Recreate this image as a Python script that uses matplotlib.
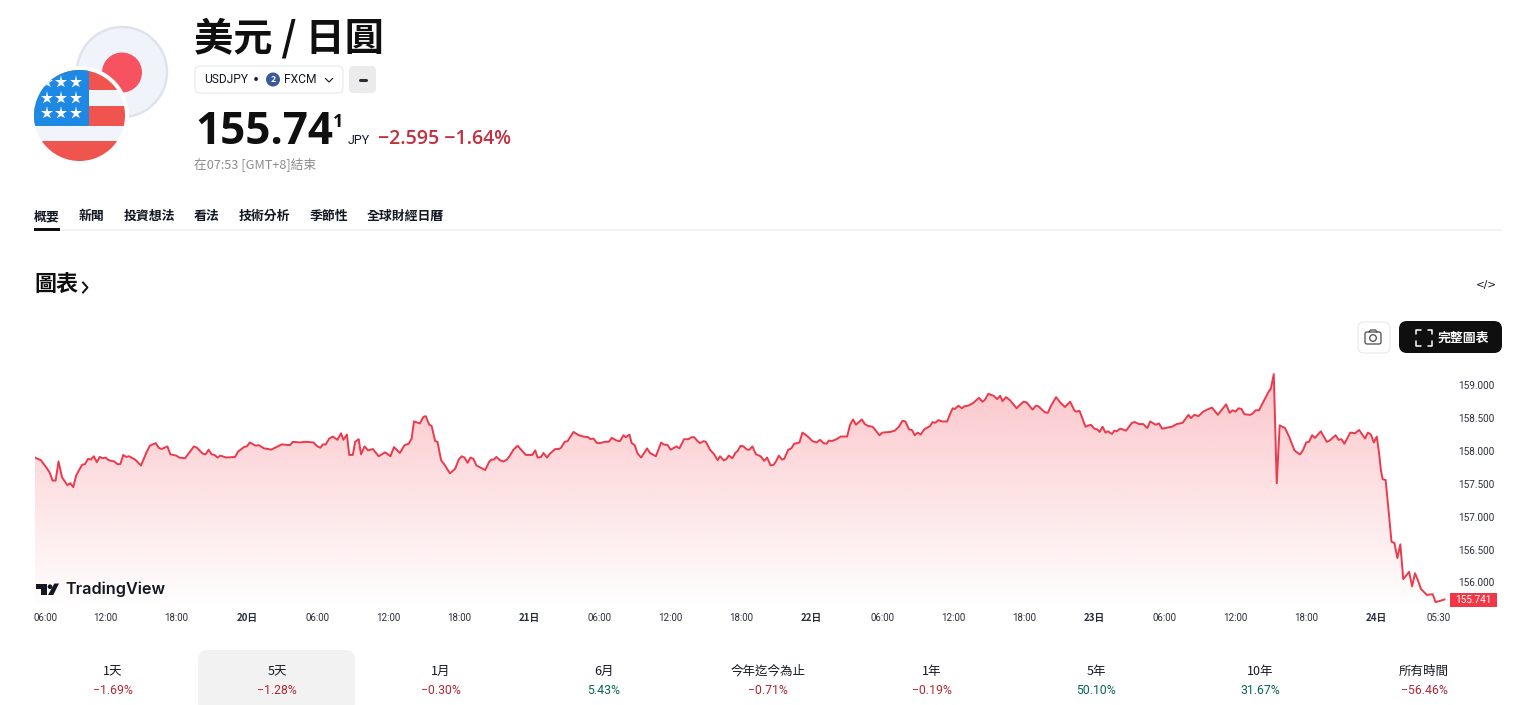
import numpy as np
import matplotlib
matplotlib.use("Agg")
import matplotlib.pyplot as plt
from matplotlib.patches import Circle, Rectangle, FancyBboxPatch, Polygon
from matplotlib.transforms import ScaledTranslation

FONT = ['Noto Sans CJK TC', 'DejaVu Sans']
plt.rcParams['font.family'] = FONT

# ---------- data ----------
hours = [0, .5, 1, 1.25, 1.5, 1.75, 2, 2.3, 2.75, 3, 3.25, 3.5, 4, 4.25, 4.5, 4.75, 5, 5.25, 5.5, 5.75, 6, 6.25, 6.75, 7, 7.25, 7.5, 7.75, 8, 8.5, 9, 9.5, 9.75, 10.25, 10.5, 10.75, 11.25, 11.5, 12, 12.25, 12.75, 13.25, 13.5, 13.75, 14.25, 14.5, 14.75, 15, 15.25, 15.5, 15.75, 16.25, 17, 17.25, 17.75, 18, 18.25, 18.75, 19,
         19.46, 19.83, 20.05, 20.4, 20.96, 21.67, 21.9, 22.5, 22.95, 23.65, 24, 24.25, 24.45, 24.7, 25, 25.3, 25.7, 26, 26.2, 26.5, 26.7, 27, 27.2, 27.5, 27.7, 28, 28.3, 28.7, 29.2, 29.75, 30.2, 30.5, 31, 31.4, 31.75, 32, 32.2, 32.7, 33, 33.2, 33.5, 33.7, 34, 34.2, 34.5, 34.8, 35.25, 35.7, 36, 36.25, 36.5, 36.75, 37, 37.25, 37.5, 38.25, 38.6, 38.8, 39,
         39.2, 39.5, 39.8, 40.1, 40.35, 40.65, 41, 41.2, 41.7, 42.25, 42.5, 42.7, 43, 43.2, 43.5, 43.75, 44.2, 44.5, 44.7, 45, 45.25, 45.75, 46.2, 46.6, 47, 47.2, 47.45, 47.75, 48, 48.4, 48.75, 49, 49.4, 49.7, 50, 50.2, 50.5, 50.7, 50.95, 51.2, 51.5, 52, 52.25, 52.75, 53.2, 53.4, 53.75, 54, 54.5, 54.75, 55.15, 55.5, 55.8, 56, 56.3, 56.5, 56.8, 57, 57.35, 57.7, 58, 58.2,
         58.5, 58.7, 58.95, 59.25, 59.5, 59.7, 59.95, 60.2, 60.5, 60.7, 60.95, 61.25, 61.65, 61.95, 62.2, 62.5, 62.75, 62.95, 63.2, 63.45, 63.65, 64, 64.25, 64.5, 64.95, 65.2, 65.6, 66.05, 66.4, 66.7, 67, 67.25, 67.45, 67.7, 68.1, 68.45, 69, 69.25, 69.5, 69.75, 70.25, 70.5, 70.8, 71.15, 71.35, 71.75, 72, 72.65, 73.05, 73.4, 73.7, 73.95, 74.25, 74.5, 74.75, 75, 75.25, 75.55, 76.05, 76.25, 76.5, 76.75, 77.05, 77.5,
         77.74, 77.97, 78.15, 78.45, 78.75, 78.95, 79.3, 79.7, 80.2, 80.5, 80.7, 81, 81.45, 81.75, 82, 82.2, 82.5, 82.85, 83.4, 83.6, 84, 84.25, 84.75, 85.05, 85.25, 85.8, 86.05, 86.3, 86.75, 87.1, 87.5, 87.95, 88.3, 88.45, 88.75, 89.25, 89.7, 90, 90.25, 90.45, 90.7, 90.95, 91.15, 91.5, 91.7, 91.9, 92.2, 92.7, 93.2, 93.45, 93.8, 94.15, 94.5, 94.75, 95.2, 95.5, 95.75, 96.3, 96.6, 97,
         97.28, 97.5, 98, 98.2, 98.5, 98.85, 99.25, 99.7, 100, 100.5, 100.75, 101.2, 101.5, 101.75, 102, 102.25, 102.5, 102.75, 103.25, 103.45, 103.7, 104, 104.25, 104.8, 105, 105.25, 105.5, 105.75, 106.2, 106.55, 107, 107.35, 107.5, 107.75, 108, 108.25, 108.5, 108.75, 109.25, 109.75, 110, 110.5, 110.75, 111, 111.25, 111.75, 112.15, 112.5, 113, 113.25, 113.5, 113.75, 114, 114.2, 114.35, 114.5, 114.75,
         115, 115.25, 115.5, 115.75, 116, 116.25, 116.75, 117, 117.25, 117.5, 117.75, 118.25, 118.75, 119, 119.4, 119.75]
prices = [157.90, 157.86, 157.74, 157.67, 157.55, 157.55, 157.84, 157.60, 157.48, 157.51, 157.45, 157.63, 157.79, 157.80, 157.88, 157.87, 157.92, 157.83, 157.91, 157.89, 157.90, 157.86, 157.84, 157.80, 157.80, 157.94, 157.91, 157.92, 157.87, 157.78, 157.99, 158.08, 158.12, 158.05, 158.03, 158.07, 157.95, 157.93, 157.90, 157.89, 158.01, 158.07, 158.05, 157.96, 157.95, 158.02, 157.95, 157.94, 157.90, 157.93, 157.90, 157.91, 157.99, 158.06, 158.07, 158.13, 158.08, 158.09,
          158.04, 158.03, 158.02, 158.05, 158.10, 158.09, 158.14, 158.13, 158.14, 158.13, 158.07, 158.05, 158.10, 158.10, 158.19, 158.22, 158.17, 158.27, 158.17, 158.25, 157.94, 157.94, 158.14, 158.18, 157.95, 158.07, 158.01, 158.03, 157.92, 157.98, 157.92, 158.06, 157.97, 158.09, 158.11, 158.19, 158.45, 158.42, 158.52, 158.53, 158.40, 158.38, 158.15, 158.14, 157.86, 157.79, 157.66, 157.73, 157.87, 157.92, 157.90, 157.82, 157.90, 157.88, 157.78, 157.71, 157.84, 157.87, 157.87,
          157.91, 157.86, 157.84, 157.87, 157.93, 158.02, 158.08, 158.04, 157.94, 157.94, 158.01, 157.90, 157.91, 157.97, 157.90, 157.96, 158.03, 158.03, 158.05, 158.14, 158.15, 158.29, 158.24, 158.22, 158.21, 158.18, 158.19, 158.12, 158.12, 158.14, 158.14, 158.20, 158.16, 158.15, 158.24, 158.21, 158.25, 158.12, 158.09, 157.96, 157.90, 158.04, 157.97, 157.92, 158.13, 158.10, 158.09, 158.02, 158.07, 158.04, 158.18, 158.18, 158.21, 158.21, 158.15, 158.12, 158.15, 158.14, 158.02, 157.95, 157.86, 157.92,
          157.86, 157.87, 157.93, 157.89, 157.97, 158.00, 158.08, 158.07, 158.02, 158.02, 158.07, 157.95, 157.92, 157.85, 157.90, 157.78, 157.79, 157.84, 157.93, 157.87, 157.88, 158.02, 158.04, 158.11, 158.13, 158.28, 158.23, 158.15, 158.13, 158.17, 158.12, 158.11, 158.16, 158.15, 158.18, 158.22, 158.22, 158.40, 158.48, 158.40, 158.48, 158.41, 158.38, 158.37, 158.33, 158.24, 158.28, 158.29, 158.31, 158.37, 158.46, 158.45, 158.33, 158.32, 158.24, 158.28, 158.25, 158.33, 158.38, 158.44, 158.43, 158.47, 158.45, 158.45,
          158.56, 158.65, 158.64, 158.69, 158.65, 158.68, 158.69, 158.73, 158.81, 158.75, 158.78, 158.87, 158.84, 158.79, 158.84, 158.76, 158.82, 158.77, 158.65, 158.69, 158.75, 158.74, 158.63, 158.69, 158.68, 158.59, 158.58, 158.68, 158.82, 158.74, 158.67, 158.75, 158.62, 158.60, 158.61, 158.37, 158.40, 158.34, 158.33, 158.29, 158.37, 158.28, 158.30, 158.26, 158.31, 158.30, 158.34, 158.31, 158.43, 158.44, 158.41, 158.41, 158.35, 158.45, 158.40, 158.42, 158.34, 158.36, 158.37, 158.41,
          158.42, 158.43, 158.55, 158.50, 158.55, 158.53, 158.60, 158.64, 158.66, 158.55, 158.61, 158.71, 158.58, 158.62, 158.60, 158.65, 158.64, 158.56, 158.55, 158.57, 158.62, 158.62, 158.71, 158.90, 158.95, 159.17, 157.51, 158.39, 158.35, 158.22, 158.01, 157.96, 157.95, 158.02, 158.13, 158.14, 158.24, 158.20, 158.30, 158.14, 158.16, 158.24, 158.17, 158.18, 158.11, 158.28, 158.27, 158.32, 158.19, 158.28, 158.25, 158.13, 158.22, 157.96, 157.71, 157.57, 157.56,
          157.10, 156.62, 156.60, 156.37, 156.58, 156.05, 156.16, 155.94, 156.14, 156.03, 155.90, 155.81, 155.82, 155.70, 155.72, 155.74]

x_tick_hours = [0, 6, 12, 18, 24, 30, 36, 42, 48, 54, 60, 66, 72, 78, 84, 90, 96, 102, 108, 114, 119.5]
x_tick_labels = ['06:00', '12:00', '18:00', '20日', '06:00', '12:00', '18:00', '21日', '06:00', '12:00', '18:00',
                 '22日', '06:00', '12:00', '18:00', '23日', '06:00', '12:00', '18:00', '24日', '05:30']
y_ticks = [156, 156.5, 157, 157.5, 158, 158.5, 159]
last_label = '155.741'

nav_tabs = ['概要', '新聞', '投資想法', '看法', '技術分析', '季節性', '全球財經日曆']
periods = ['1天', '5天', '1月', '6月', '今年迄今為止', '1年', '5年', '10年', '所有時間']
changes = ['−1.69%', '−1.28%', '−0.30%', '5.43%', '−0.71%', '−0.19%', '50.10%', '31.67%', '−56.46%']

# ---------- figure ----------
W, H = 1514, 705
fig = plt.figure(figsize=(W / 100, H / 100), dpi=100, facecolor='white')

L, R, T_, B = 35, 1450, 365, 610
chart = fig.add_axes([L / W, 1 - B / H, (R - L) / W, (B - T_) / H], zorder=1)
chart.patch.set_visible(False)
xlim = (0, (R - L) / 11.77)
ylim = (158 + (451 - B) / 65.7, 158 + (451 - T_) / 65.7)
chart.set_xlim(*xlim)
chart.set_ylim(*ylim)
for s in chart.spines.values():
    s.set_visible(False)

grad = np.zeros((256, 2, 4))
grad[..., 0] = 242 / 255
grad[..., 1] = 54 / 255
grad[..., 2] = 69 / 255
grad[..., 3] = np.linspace(0.30, 0.0, 256)[:, None]
poly = chart.fill_between(hours, prices, ylim[0], color='none', lw=0)
im = chart.imshow(grad, extent=(*xlim, *ylim), origin='upper', aspect='auto', zorder=1, interpolation='bilinear')
im.set_clip_path(poly.get_paths()[0], transform=chart.transData)
chart.set_xlim(*xlim)
chart.set_ylim(*ylim)
chart.plot(hours, prices, color='#ec3a4c', lw=1.4, zorder=2, solid_joinstyle='round')

TICK_COL = '#2a2e39'
chart.set_xticks(x_tick_hours)
chart.set_xticklabels(x_tick_labels)
chart.tick_params(axis='x', length=0, pad=2)
for lab, txt in zip(chart.get_xticklabels(), x_tick_labels):
    bold = txt.endswith('日')
    lab.set_fontproperties(matplotlib.font_manager.FontProperties(
        family=FONT if bold else ['Roboto', 'DejaVu Sans'], size=7.0, weight='bold' if bold else 'normal'))
    lab.set_color(TICK_COL)
ticklabs = chart.get_xticklabels()
ticklabs[0].set_ha('left')
ticklabs[0].set_transform(ticklabs[0].get_transform() + ScaledTranslation(-1 / 72, 0, fig.dpi_scale_trans))
ticklabs[-1].set_ha('right')
ticklabs[-1].set_transform(ticklabs[-1].get_transform() + ScaledTranslation(9 / 100, 0, fig.dpi_scale_trans))

chart.yaxis.tick_right()
chart.set_yticks(y_ticks)
chart.set_yticklabels([f'{v:.3f}' for v in y_ticks])
chart.tick_params(axis='y', length=0, pad=5.8)
for lab in chart.get_yticklabels():
    lab.set_fontfamily(['Roboto', 'DejaVu Sans'])
    lab.set_fontsize(7.2)
    lab.set_color(TICK_COL)

# ---------- page furniture, in pixel space ----------
ui = fig.add_axes([0, 0, 1, 1], zorder=5)
ui.set_xlim(0, W)
ui.set_ylim(H, 0)
ui.axis('off')
ui.patch.set_visible(False)


def tx(x, y, s, px, color='#131722', ha='left', va='center', weight='normal', family=FONT, **kw):
    return ui.text(x, y, s, fontsize=px * 0.72, color=color, ha=ha, va=va, fontweight=weight, family=family, **kw)


def rbox(x0, y0, x1, y1, r, fc, ec='none', lw=1.0, z=2):
    p = FancyBboxPatch((x0 + r, y0 + r), x1 - x0 - 2 * r, y1 - y0 - 2 * r, boxstyle=f'round,pad={r},rounding_size={r}',
                       fc=fc, ec=ec, lw=lw, zorder=z)
    ui.add_patch(p)
    return p


# flags
ui.add_patch(Circle((122, 72), 45, fc='#f0f3fa', ec='#e0e3eb', lw=1.8, zorder=1))
ui.add_patch(Circle((122, 72.5), 20, fc='#f7525f', ec='none', zorder=2))
ui.add_patch(Circle((79.5, 115.5), 49.5, fc='white', ec='none', zorder=3))
clip = Circle((79.5, 115.5), 45.5, transform=ui.transData)
for (x0, y0, x1, y1, c) in [(30, 66, 130, 90, '#f0544f'), (30, 90, 130, 106, '#f1f4fa'), (30, 106, 130, 126, '#f0544f'),
                            (30, 126, 130, 141, '#f1f4fa'), (30, 141, 130, 165, '#f0544f'), (30, 66, 89, 126, '#1e88e5')]:
    r = Rectangle((x0, y0), x1 - x0, y1 - y0, fc=c, ec='none', zorder=4)
    ui.add_patch(r)
    r.set_clip_path(clip)
for sx in (46.5, 61.3, 76.4):
    for sy in (82, 98, 113):
        st, = ui.plot([sx], [sy], marker='*', ms=9.5, mfc='white', mec='white', mew=0, zorder=5, ls='none')
        st.set_clip_path(clip)

# header text
tx(194, 38.5, '美元 / 日圓', 39.3, weight='bold', color='#0f0f0f')
rbox(195, 66, 343, 93, 5, 'white', '#e6e8ee', 0.8)
tx(204, 79.5, 'USDJPY', 12, family=['Roboto', 'DejaVu Sans'])
tx(256, 81, '·', 14, weight='bold', ha='center')
ui.add_patch(Circle((273, 79.5), 7, fc='#3c5a9a', ec='none', zorder=3))
tx(273, 79.5, '2', 9, color='white', ha='center', weight='bold', zorder=4)
tx(284, 79.5, 'FXCM', 12, family=['Roboto', 'DejaVu Sans'])
ui.plot([325.5, 329, 332.5], [78.5, 82, 78.5], color='#131722', lw=0.8, zorder=3)
rbox(349, 66, 376, 93, 5, '#ebebeb')
ui.plot([360, 366], [80, 80], color='#2a2e39', lw=2.2, solid_capstyle='round', zorder=3)

tx(195, 133, '155.74', 44, weight='bold', color='#0f0f0f', family=['Open Sans', 'DejaVu Sans'])
tx(333, 122, '1', 18, weight='bold', color='#0f0f0f', family=['Open Sans', 'DejaVu Sans'])
tx(348, 141, 'JPY', 12.5, family=['Roboto', 'DejaVu Sans'])
tx(378, 139, '−2.595 −1.64%', 19.5, color='#c22f3e', weight='semibold', family=['Open Sans', 'DejaVu Sans'])
tx(194, 164.5, '在07:53 [GMT+8]結束', 12.7, color='#8c8c8c')

# nav tabs
for x, s in zip([34, 79, 124, 194, 239, 310, 367], nav_tabs):
    tx(x, 216, s, 12.9, weight='bold', color='#131722')
ui.add_patch(Rectangle((60, 228.5), 1442, 2.5, fc='#f0f2f5', ec='none', zorder=1))
ui.add_patch(Rectangle((34, 228), 26, 3, fc='#0f0f0f', ec='none', zorder=2))

# section header
tx(34, 285.5, '圖表', 22, weight='bold', color='#0f0f0f')
ui.plot([83, 87.5, 83], [282.5, 287.5, 292.5], color='#0f0f0f', lw=1.4, zorder=3)
tx(1486, 285, '</>', 10.5, ha='center', family=['DejaVu Sans'])

# buttons
rbox(1358, 322, 1390, 353, 6, 'white', '#e8e8e8', 0.8)
rbox(1365, 332, 1381, 344, 2, 'white', '#4a4a4a', 0.9, z=3)
ui.add_patch(Circle((1373, 338), 3.3, fc='white', ec='#4a4a4a', lw=0.9, zorder=4))
ui.plot([1369, 1370.5, 1375.5, 1377], [332, 330, 330, 332], color='#4a4a4a', lw=0.9, zorder=4)
rbox(1399, 321, 1502, 353, 8, '#0f0f0f')
cx, cy, a, b = 1424, 337.5, 8, 4.5
for sxx, syy in [(-1, -1), (1, -1), (-1, 1), (1, 1)]:
    ui.plot([cx + sxx * (a - b), cx + sxx * a, cx + sxx * a], [cy + syy * a, cy + syy * a, cy + syy * (a - b)],
            color='white', lw=1.1, zorder=3, solid_capstyle='round')
tx(1438, 338, '完整圖表', 12.9, color='white', weight='bold', zorder=4)

# TradingView logo
ui.add_patch(Polygon([(35.7, 584), (46.7, 584), (46.7, 595), (40.7, 595), (40.7, 589), (35.7, 589)], fc='#131722', ec='none', zorder=3))
ui.add_patch(Circle((50, 586.7), 2.3, fc='#131722', ec='none', zorder=3))
ui.add_patch(Polygon([(54.3, 583.5), (59, 583.5), (53.3, 595), (48, 595)], fc='#131722', ec='none', zorder=3))
tx(65, 589.5, 'TradingView', 16.2, weight='semibold', color='#131722', family=['Inter', 'DejaVu Sans'])

# last price tag
ui.add_patch(Rectangle((1450, 593), 47, 14, fc='#f23645', ec='none', zorder=3))
tx(1473.5, 600, last_label, 10, color='white', ha='center', zorder=4, family=['Roboto', 'DejaVu Sans'])

# period strip
rbox(198, 650, 355, 712, 10, '#f2f2f2', z=1)
RED, GREEN = '#b22833', '#056656'
for x, p, c in zip([113, 277, 441, 604, 768, 932, 1096, 1260, 1424], periods, changes):
    tx(x, 671.5, p, 12.5, ha='center', color='#131722')
    tx(x, 690, c, 12.2, ha='center', color=RED if c.startswith('−') else GREEN, family=['Roboto', 'DejaVu Sans'])

fig.savefig('out.png', dpi=100, facecolor='white')
